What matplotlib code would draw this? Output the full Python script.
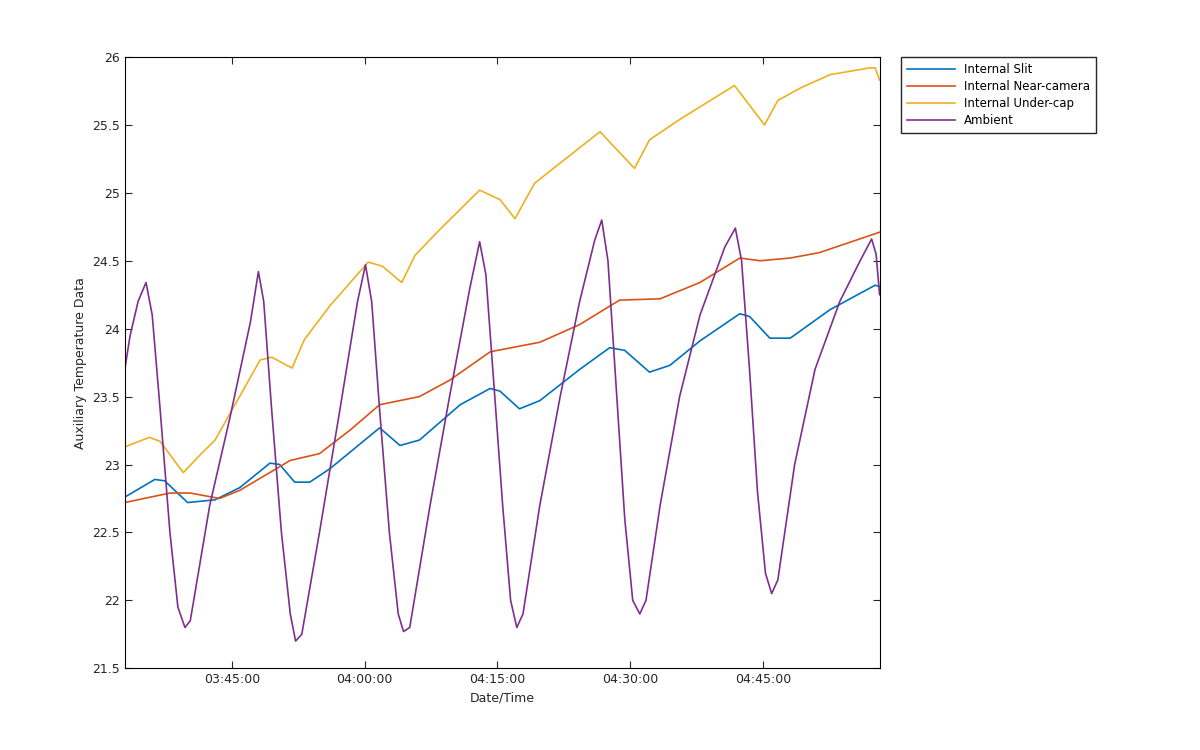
import matplotlib
matplotlib.use("Agg")
import matplotlib.pyplot as plt
from matplotlib.ticker import FuncFormatter, MultipleLocator

# minutes after 03:00
slit_t = [32.9, 36.3, 37.4, 40.0, 43.1, 45.9, 49.3, 50.4, 52.1, 53.8, 56.1, 61.7, 64.0, 66.2, 70.8, 74.2,
          75.3, 77.5, 79.8, 84.3, 87.7, 89.4, 92.2, 94.5, 97.9, 102.4, 103.5, 105.8, 108.1, 112.6, 117.7, 118.2]
slit_v = [22.76, 22.89, 22.88, 22.72, 22.74, 22.83, 23.01, 23.0, 22.87, 22.87, 22.97, 23.27, 23.14, 23.18,
          23.44, 23.56, 23.54, 23.41, 23.47, 23.70, 23.86, 23.84, 23.68, 23.73, 23.91, 24.11, 24.09, 23.93,
          23.93, 24.14, 24.32, 24.31]

near_t = [32.9, 38.0, 40.3, 43.6, 45.9, 51.6, 54.9, 58.3, 61.7, 66.2, 69.6, 74.2, 79.8, 84.3, 88.8, 93.4,
          97.9, 102.4, 104.7, 108.1, 111.4, 118.2]
near_v = [22.72, 22.79, 22.79, 22.75, 22.81, 23.03, 23.08, 23.25, 23.44, 23.50, 23.62, 23.83, 23.90, 24.03,
          24.21, 24.22, 24.34, 24.52, 24.50, 24.52, 24.56, 24.71]

cap_t = [32.9, 35.7, 36.9, 39.5, 41.4, 43.1, 48.2, 49.5, 51.8, 53.2, 56.1, 60.4, 62.0, 64.2, 65.7, 68.5,
         73.0, 75.3, 77.0, 79.2, 86.6, 90.5, 92.2, 95.6, 101.8, 105.2, 106.7, 109.2, 112.6, 117.1, 117.7, 118.2]
cap_v = [23.13, 23.20, 23.17, 22.94, 23.07, 23.18, 23.77, 23.79, 23.71, 23.92, 24.17, 24.49, 24.46, 24.34,
         24.54, 24.73, 25.02, 24.95, 24.81, 25.07, 25.45, 25.18, 25.39, 25.54, 25.79, 25.50, 25.68, 25.77,
         25.87, 25.92, 25.92, 25.83]

amb_t = [32.9, 33.5, 34.4, 35.3, 36.0, 36.9, 38.0, 38.9, 39.7, 40.3, 42.5, 44.8, 47.1, 48.0, 48.6, 49.5,
         50.6, 51.6, 52.2, 52.9, 54.9, 57.2, 59.2, 60.1, 60.8, 61.7, 62.8, 63.8, 64.4, 65.1, 67.4, 69.6,
         71.9, 73.0, 73.7, 74.6, 75.6, 76.5, 77.2, 77.9, 79.8, 82.1, 84.3, 86.0, 86.8, 87.5, 88.4, 89.4,
         90.3, 91.1, 91.8, 93.4, 95.6, 97.9, 100.7, 101.9, 102.6, 103.5, 104.4, 105.3, 106.0, 106.7, 108.6,
         110.9, 113.7, 116.0, 117.3, 117.8, 118.2]
amb_v = [23.70, 23.95, 24.20, 24.34, 24.10, 23.40, 22.50, 21.95, 21.80, 21.85, 22.70, 23.35, 24.05, 24.42,
         24.20, 23.40, 22.50, 21.90, 21.70, 21.75, 22.50, 23.40, 24.20, 24.47, 24.20, 23.40, 22.50, 21.90,
         21.77, 21.80, 22.70, 23.50, 24.30, 24.64, 24.40, 23.60, 22.70, 22.00, 21.80, 21.90, 22.70, 23.50,
         24.20, 24.65, 24.80, 24.50, 23.60, 22.60, 22.00, 21.90, 22.00, 22.70, 23.50, 24.10, 24.60, 24.74,
         24.50, 23.70, 22.80, 22.20, 22.05, 22.15, 23.00, 23.70, 24.20, 24.50, 24.66, 24.55, 24.25]


def clock(m, pos=None):
    s = int(round(m * 60)) + 3 * 3600
    return "%02d:%02d:%02d" % (s // 3600, (s // 60) % 60, s % 60)


plt.rcParams["font.family"] = "DejaVu Sans"
plt.rcParams["font.size"] = 9
fig = plt.figure(figsize=(12, 7.5), dpi=100)
ax = fig.add_axes([0.104, 0.109, 0.629, 0.815])
ax.plot(slit_t, slit_v, color="#0072BD", lw=1.2, label="Internal Slit")
ax.plot(near_t, near_v, color="#D95319", lw=1.2, label="Internal Near-camera")
ax.plot(cap_t, cap_v, color="#EDB120", lw=1.2, label="Internal Under-cap")
ax.plot(amb_t, amb_v, color="#7E2F8E", lw=1.2, label="Ambient")

ax.set_xlim(32.9, 118.2)
ax.set_ylim(21.5, 26)
ax.xaxis.set_major_locator(MultipleLocator(15))
ax.xaxis.set_major_formatter(FuncFormatter(clock))
ax.yaxis.set_major_locator(MultipleLocator(0.5))
ax.yaxis.set_major_formatter(FuncFormatter(lambda v, p: "%g" % v))
ax.tick_params(direction="in", top=True, right=True, length=5, colors="#262626")
ax.set_xlabel("Date/Time", color="#262626")
ax.set_ylabel("Auxiliary Temperature Data", color="#262626")
ax.legend(loc="upper left", bbox_to_anchor=(1.029, 1.0), borderaxespad=0, fancybox=False,
          edgecolor="#262626", fontsize=8.5, handlelength=4, borderpad=0.5, labelspacing=0.35,
          framealpha=1)

fig.savefig("out.png")
